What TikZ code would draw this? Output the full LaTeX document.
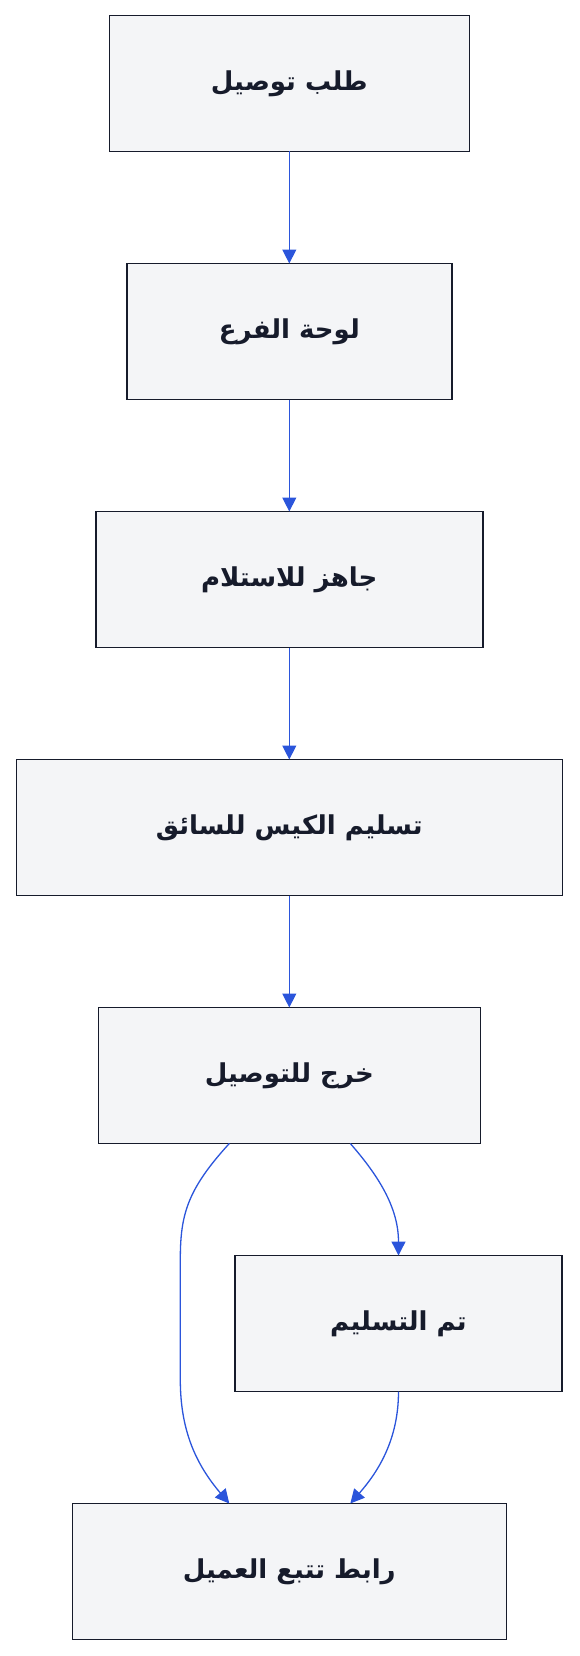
\documentclass[tikz,border=0pt]{standalone}
\usepackage{fontspec}
\usetikzlibrary{positioning,arrows.meta}
\TeXXeTstate=1
\newfontfamily\arabicfont[Script=Arabic]{DejaVu Sans}
\definecolor{boxfill}{HTML}{F4F5F7}
\definecolor{boxline}{HTML}{161B2B}
\definecolor{flow}{HTML}{2B55DB}
\tikzset{
  stepbox/.style={draw=boxline, line width=1.6pt, fill=boxfill, minimum height=136pt,
    inner sep=0pt, outer sep=0pt, font=\arabicfont\bfseries\fontsize{26}{30}\selectfont, text=boxline},
  flowline/.style={draw=flow, line width=1.3pt, -{Triangle[length=14pt,width=14pt]}}
}
\begin{document}
\begin{tikzpicture}[x=1pt, y=1pt, node distance=112pt]
            \useasboundingbox (0,0) rectangle (580,-1656);
            \node[stepbox, minimum width=360pt] (Req) at (289.3,-83.5) {\beginR طلب توصيل\endR};
            \node[stepbox, minimum width=325pt] (Board) [below=of Req] {\beginR لوحة الفرع\endR};
            \node[stepbox, minimum width=387pt] (Ready) [below=of Board] {\beginR جاهز للاستلام\endR};
            \node[stepbox, minimum width=546pt] (Hand) [below=of Ready] {\beginR تسليم الكيس للسائق\endR};
            \node[stepbox, minimum width=382pt] (Out) [below=of Hand] {\beginR خرج للتوصيل\endR};
            \node[stepbox, minimum width=327pt] (Done) [below=of Out, xshift=109.2pt] {\beginR تم التسليم\endR};
            \node[stepbox, minimum width=434pt] (Link) [below=360pt of Out] {\beginR رابط تتبع العميل\endR};
            \draw[flowline] (Req) -- (Board);
            \draw[flowline] (Board) -- (Ready);
            \draw[flowline] (Ready) -- (Hand);
            \draw[flowline] (Hand) -- (Out);
            \draw[flowline] ([xshift=61pt]Out.south) .. controls +(28pt,-32pt) and +(0,48pt) .. (Done.north);
            \draw[flowline] (Done.south) .. controls +(0,-48pt) and +(28pt,32pt) .. ([xshift=61pt]Link.north);
            \draw[flowline] ([xshift=-60pt]Out.south) .. controls +(-42pt,-46pt) and +(0,45pt) .. ++(-49pt,-116pt)
                -- ++(0,-120pt) .. controls +(0,-50pt) and +(-34pt,40pt) .. ([xshift=-60pt]Link.north);
        \end{tikzpicture}
\end{document}
